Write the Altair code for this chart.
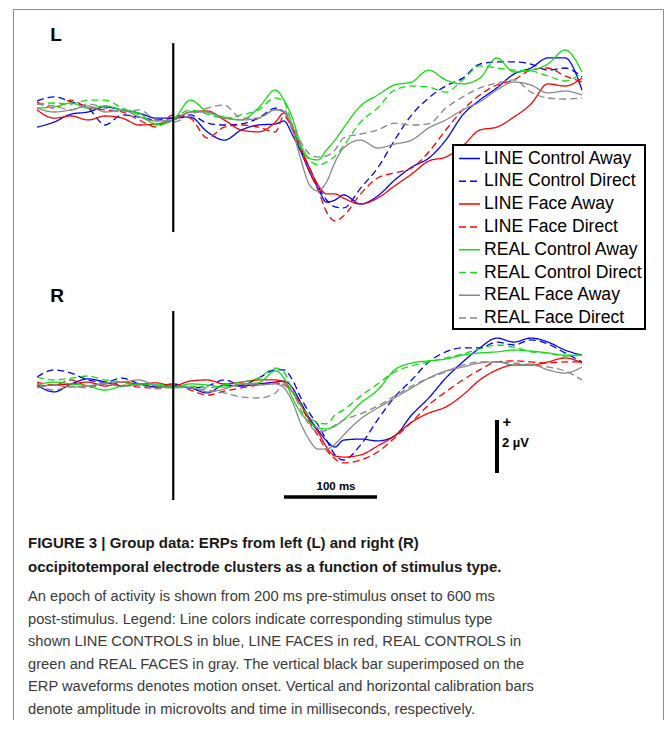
import altair as alt
import pandas as pd

# ---------------- data ----------------
time_ms = [-200, -175, -150, -125, -100, -75, -50, -25, 0, 25, 50, 75, 100, 125, 150,
           162.5, 175, 187.5, 200, 212.5, 225, 237.5, 250,
           275, 300, 325, 350, 375, 400, 425, 450, 475, 500, 525, 550, 575, 600]

conditions = ["LINE Control Away", "LINE Control Direct", "LINE Face Away", "LINE Face Direct",
              "REAL Control Away", "REAL Control Direct", "REAL Face Away", "REAL Face Direct"]
line_colors = ["#0000ff", "#0000ff", "#ff0000", "#ff0000",
               "#11dd11", "#11dd11", "#888888", "#888888"]
line_dashes = [[1, 0], [7, 4], [1, 0], [7, 4], [1, 0], [7, 4], [1, 0], [7, 4]]

# Left cluster (µV)
L_line_control_away = [-0.57, -0.38, -0.08, 0.00, 0.19, 0.08, -0.04, -0.23, -0.23, -0.19, -0.75, -1.06, -0.68, -0.49, -0.45,
                       -0.34, -0.87, -1.51, -2.26, -2.87, -3.40, -3.32, -3.13,
                       -3.47, -3.17, -2.57, -2.08, -1.74, -1.06, -0.11, 0.45, 0.91, 1.43, 1.66, 2.04, 2.04, 0.83]
L_line_control_direct = [0.42, 0.57, 0.38, 0.15, -0.49, -0.11, -0.19, -0.30, -0.23, -0.11, -0.42, -0.49, -0.45, -0.23, 0.15,
                         0.00, -0.60, -1.43, -2.11, -2.79, -3.32, -3.58, -3.62,
                         -2.87, -2.11, -1.06, -0.11, 0.53, 0.98, 1.28, 1.81, 1.89, 1.89, 1.81, 1.58, 1.66, 1.32]
L_line_face_away = [0.08, -0.23, -0.15, -0.30, -0.15, -0.23, -0.49, -0.45, -0.30, 0.00, 0.04, -0.30, -0.68, -0.75, -0.38,
                    -0.04, -0.60, -1.36, -2.11, -2.75, -3.09, -3.09, -3.25,
                    -3.47, -3.25, -2.79, -2.34, -1.85, -1.70, -1.28, -0.68, -0.57, -0.19, 0.30, 1.06, 0.98, 1.28]
L_line_face_direct = [0.38, 0.15, 0.45, 0.15, 0.08, 0.00, -0.30, -0.57, -0.11, -0.23, -0.98, -0.57, -0.49, -0.57, -0.75,
                      -0.15, -0.68, -1.43, -2.26, -2.94, -3.77, -4.11, -3.92,
                      -3.09, -2.49, -2.30, -2.11, -1.51, -0.68, 0.08, 0.64, 1.02, 1.21, 1.58, 1.66, 1.36, 1.13]
L_real_control_away = [0.15, 0.19, 0.34, 0.15, 0.23, 0.08, -0.04, -0.49, -0.30, 0.45, 0.00, -0.19, -0.30, 0.15, 0.83,
                       0.45, -0.23, -1.25, -1.74, -1.81, -1.43, -1.06, -0.60,
                       0.23, 0.64, 1.02, 1.13, 1.58, 1.21, 1.06, 1.28, 2.04, 1.51, 1.58, 1.81, 2.34, 1.51]
L_real_control_direct = [0.30, 0.34, 0.30, 0.45, 0.45, 0.15, -0.11, -0.45, -0.23, 0.08, -0.08, -0.23, -0.11, 0.08, 0.53,
                         0.38, -0.49, -1.36, -1.81, -2.00, -1.89, -1.66, -1.28,
                         -0.38, 0.15, 0.83, 0.98, 0.94, 0.75, 1.21, 1.74, 1.66, 1.58, 1.55, 1.36, 1.17, 1.47]
L_real_face_away = [0.15, 0.00, 0.08, 0.23, 0.00, 0.08, -0.19, -0.34, -0.30, 0.00, 0.00, -0.23, -0.30, -0.23, 0.08,
                    0.00, -0.68, -1.81, -2.75, -2.98, -2.64, -1.89, -1.36,
                    -1.06, -1.36, -1.21, -1.06, -0.60, -0.30, 0.08, 0.38, 0.83, 1.13, 1.02, 0.72, 0.79, 0.64]
L_real_face_direct = [0.30, 0.23, 0.08, 0.30, 0.15, 0.00, 0.08, -0.30, -0.38, -0.11, 0.15, 0.26, -0.23, -0.23, 0.08,
                      0.08, -0.49, -1.13, -1.58, -1.70, -1.66, -1.43, -0.98,
                      -0.83, -0.68, -0.42, -0.49, -0.45, 0.15, 0.57, 0.91, 1.09, 1.21, 0.75, 0.53, 0.49, 0.53]

# Right cluster (µV)
R_line_control_away = [0.00, -0.26, 0.04, 0.23, 0.11, -0.04, 0.04, -0.08, -0.04, -0.11, -0.30, 0.00, -0.04, 0.04, 0.11,
                       0.15, -0.11, -0.68, -1.25, -1.70, -2.11, -2.34, -2.08,
                       -2.04, -2.11, -1.92, -1.13, -0.49, 0.26, 0.87, 1.40, 1.77, 1.62, 1.77, 1.62, 1.32, 1.13]
R_line_control_direct = [0.30, 0.57, 0.45, 0.19, 0.11, 0.26, 0.04, -0.04, 0.04, -0.11, -0.04, 0.19, 0.00, 0.26, 0.57,
                         0.57, 0.19, -0.49, -1.06, -1.51, -2.08, -2.64, -2.83,
                         -2.26, -1.32, -0.45, 0.19, 0.87, 1.25, 1.40, 1.40, 1.62, 1.51, 1.70, 1.55, 1.21, 0.87]
R_line_face_away = [-0.04, 0.00, 0.04, 0.11, -0.04, 0.11, 0.04, 0.08, -0.04, 0.15, 0.19, 0.04, 0.11, 0.19, 0.19,
                    0.11, -0.26, -0.75, -1.32, -1.77, -2.34, -2.68, -2.72,
                    -2.64, -2.30, -1.92, -1.40, -1.06, -0.83, -0.38, 0.19, 0.57, 0.75, 0.75, 0.87, 1.02, 0.83]
R_line_face_direct = [0.11, 0.00, 0.19, -0.04, 0.04, 0.00, -0.08, -0.11, 0.04, -0.19, -0.38, -0.23, -0.11, 0.00, 0.08,
                      0.00, -0.26, -0.79, -1.40, -1.92, -2.45, -2.79, -2.94,
                      -2.83, -2.53, -2.00, -1.40, -0.75, -0.26, 0.19, 0.57, 0.87, 0.91, 0.87, 0.83, 0.87, 0.87]
R_real_control_away = [0.00, 0.11, 0.04, -0.04, -0.19, -0.04, 0.04, 0.00, -0.08, 0.04, 0.00, -0.08, 0.04, 0.08, 0.53,
                       0.26, -0.49, -1.06, -1.40, -1.62, -1.66, -1.55, -1.32,
                       -0.68, -0.19, 0.57, 0.83, 0.91, 0.98, 1.13, 1.21, 1.25, 1.32, 1.28, 1.21, 1.13, 1.13]
R_real_control_direct = [0.30, 0.19, 0.26, 0.34, 0.19, 0.11, 0.00, 0.04, -0.04, -0.04, -0.11, 0.00, 0.11, 0.26, 0.64,
                         0.49, -0.19, -0.75, -1.21, -1.43, -1.47, -1.13, -0.94,
                         -0.42, 0.04, 0.49, 0.72, 0.87, 1.02, 1.17, 1.36, 1.51, 1.43, 1.25, 1.21, 1.09, 1.13]
R_real_face_away = [-0.11, 0.00, -0.08, -0.04, 0.08, 0.11, 0.19, -0.04, -0.11, -0.08, -0.26, -0.15, 0.04, 0.00, 0.04,
                    -0.11, -0.64, -1.47, -2.08, -2.42, -2.42, -2.23, -1.89,
                    -1.28, -0.87, -0.49, -0.11, 0.26, 0.53, 0.68, 0.83, 0.87, 0.75, 0.79, 0.57, 0.45, 0.68]
R_real_face_direct = [0.08, -0.19, -0.04, -0.11, 0.04, -0.04, 0.00, -0.15, -0.08, -0.11, -0.19, -0.30, -0.45, -0.49, -0.30,
                      0.04, -0.26, -0.94, -1.51, -1.77, -1.70, -1.51, -1.32,
                      -1.09, -0.79, -0.42, -0.04, 0.26, 0.49, 0.75, 0.87, 0.87, 0.83, 0.75, 0.68, 0.53, 0.19]

left_series = [L_line_control_away, L_line_control_direct, L_line_face_away, L_line_face_direct,
               L_real_control_away, L_real_control_direct, L_real_face_away, L_real_face_direct]
right_series = [R_line_control_away, R_line_control_direct, R_line_face_away, R_line_face_direct,
                R_real_control_away, R_real_control_direct, R_real_face_away, R_real_face_direct]

# motion onset bars (ms, µV top/bottom), calibration bars
onset_L = {"t": [0], "top": [2.60], "bottom": [-4.53]}
onset_R = {"t": [0], "top": [2.79], "bottom": [-4.34]}
cal_time = {"t": [162.6], "t2": [299.1], "uv": [-4.23], "label": ["100 ms"], "label_uv": [-3.85], "label_t": [238.9]}
cal_amp = {"t": [475.2], "top": [-1.32], "bottom": [-3.32]}
amp_plus = {"t": [489.9], "uv": [-1.40], "label": ["+"]}
amp_unit = {"t": [482.6], "uv": [-2.19], "label": ["2 µV"]}

caption_bold = ["FIGURE 3 | Group data: ERPs from left (L) and right (R)",
                "occipitotemporal electrode clusters as a function of stimulus type."]
caption_text = ["An epoch of activity is shown from 200 ms pre-stimulus onset to 600 ms",
                "post-stimulus. Legend: Line colors indicate corresponding stimulus type",
                "shown LINE CONTROLS in blue, LINE FACES in red, REAL CONTROLS in",
                "green and REAL FACES in gray. The vertical black bar superimposed on the",
                "ERP waveforms denotes motion onset. Vertical and horizontal calibration bars",
                "denote amplitude in microvolts and time in milliseconds, respectively."]


def long_frame(series):
    rows = []
    for cond, vals in zip(conditions, series):
        assert len(vals) == len(time_ms), cond
        for t, v in zip(time_ms, vals):
            rows.append({"t": t, "uv": v, "cond": cond})
    return pd.DataFrame(rows)


df_L = long_frame(left_series)
df_R = long_frame(right_series)

# ---------------- scales ----------------
x_scale = alt.Scale(domain=[-235.23, 718.90], nice=False, zero=False)
yL_scale = alt.Scale(domain=[-22.943, 3.887], nice=False, zero=False)
yR_scale = alt.Scale(domain=[-12.642, 14.189], nice=False, zero=False)

legend = alt.Legend(title=None, orient="none", legendX=440, legendY=136,
                    symbolType="stroke", symbolSize=441, symbolStrokeWidth=1.5, symbolOffset=3,
                    labelFont="Liberation Sans", labelFontSize=17.6, labelColor="#000000",
                    labelLimit=300, labelOffset=3, strokeColor="#000000", fillColor="#ffffff",
                    padding=2, rowPadding=1.8)

color_enc = alt.Color("cond:N", scale=alt.Scale(domain=conditions, range=line_colors), legend=legend)
dash_enc = alt.StrokeDash("cond:N", scale=alt.Scale(domain=conditions, range=line_dashes), legend=legend)


def x_of(field):
    return alt.X(field, type="quantitative", scale=x_scale, axis=None)


def panel(df, y_scale, onset, label, label_t, label_uv):
    lines = alt.Chart(df).mark_line(strokeWidth=1.3, interpolate="monotone").encode(
        x=x_of("t"),
        y=alt.Y("uv:Q", scale=y_scale, axis=None),
        color=color_enc,
        strokeDash=dash_enc,
    )
    onset_rule = alt.Chart(pd.DataFrame(onset)).mark_rule(color="#000000", strokeWidth=2.2).encode(
        x=x_of("t"),
        y=alt.Y("top:Q", scale=y_scale, axis=None),
        y2="bottom:Q",
    )
    lab = alt.Chart(pd.DataFrame({"t": [label_t], "uv": [label_uv], "label": [label]})).mark_text(
        font="Liberation Sans", fontSize=19, fontWeight="bold", color="#000000", baseline="middle"
    ).encode(x=x_of("t"), y=alt.Y("uv:Q", scale=y_scale, axis=None), text="label:N")
    return [lines, onset_rule, lab]


left_layers = panel(df_L, yL_scale, onset_L, "L", -172, 2.89)
right_layers = panel(df_R, yR_scale, onset_R, "R", -170.6, 3.36)

time_bar = alt.Chart(pd.DataFrame(cal_time)).mark_rule(color="#000000", strokeWidth=3.5).encode(
    x=x_of("t"), x2="t2:Q", y=alt.Y("uv:Q", scale=yR_scale, axis=None))
time_label = alt.Chart(pd.DataFrame(cal_time)).mark_text(
    font="Liberation Sans", fontSize=11.5, fontWeight="bold", color="#000000", baseline="middle"
).encode(x=x_of("label_t"), y=alt.Y("label_uv:Q", scale=yR_scale, axis=None), text="label:N")
amp_bar = alt.Chart(pd.DataFrame(cal_amp)).mark_rule(color="#000000", strokeWidth=4).encode(
    x=x_of("t"), y=alt.Y("top:Q", scale=yR_scale, axis=None), y2="bottom:Q")
plus_label = alt.Chart(pd.DataFrame(amp_plus)).mark_text(
    font="Liberation Sans", fontSize=15, fontWeight="bold", color="#000000", baseline="middle", align="center"
).encode(x=x_of("t"), y=alt.Y("uv:Q", scale=yR_scale, axis=None), text="label:N")
unit_label = alt.Chart(pd.DataFrame(amp_unit)).mark_text(
    font="Liberation Sans", fontSize=13, fontWeight="bold", color="#000000", baseline="middle", align="left"
).encode(x=x_of("t"), y=alt.Y("uv:Q", scale=yR_scale, axis=None), text="label:N")

panel_L = alt.layer(*left_layers)
panel_R = alt.layer(*right_layers, time_bar, time_label, amp_bar, plus_label, unit_label)

one_row = pd.DataFrame({"k": [0]})
cap_bold = alt.Chart(one_row).mark_text(
    text=caption_bold, align="left", baseline="top", lineHeight=24.6,
    font="Liberation Sans", fontSize=15, fontWeight="bold", color="#1a1a1a"
).encode(x=alt.value(15), y=alt.value(526.8))
cap_text = alt.Chart(one_row).mark_text(
    text=caption_text, align="left", baseline="top", lineHeight=22.6,
    font="Liberation Sans", fontSize=14.7, color="#3a3a3a"
).encode(x=alt.value(15), y=alt.value(580.1))

chart = alt.layer(panel_L, panel_R, cap_bold, cap_text).resolve_scale(y="independent").properties(
    width=650, height=711,
    padding={"left": 5, "top": 1, "right": 1, "bottom": 0},
).configure_view(stroke="#8c8c8c", strokeWidth=1).configure_legend(strokeWidth=2)

chart.save("out.html", embed_options={"renderer": "svg", "actions": False})
